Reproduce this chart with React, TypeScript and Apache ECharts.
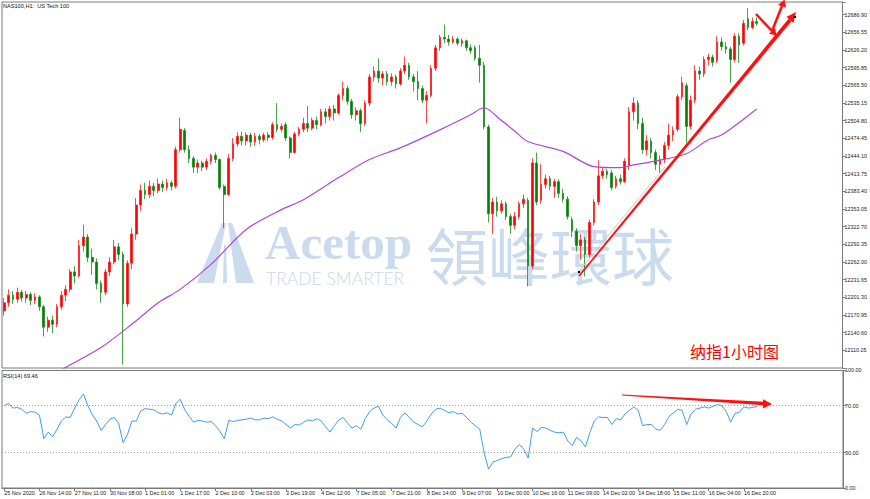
import React, { useEffect, useRef } from "react";
import * as echarts from "echarts";

// x-axis time labels (one every 8 bars)
const timeLabels = [
  "25 Nov 2020", "26 Nov 14:00", "27 Nov 11:00", "30 Nov 08:00", "1 Dec 01:00", "1 Dec 17:00",
  "2 Dec 10:00", "3 Dec 03:00", "3 Dec 19:00", "4 Dec 12:00", "7 Dec 05:00", "7 Dec 21:00",
  "8 Dec 14:00", "9 Dec 07:00", "10 Dec 00:00", "10 Dec 16:00", "11 Dec 09:00", "14 Dec 02:00",
  "14 Dec 18:00", "15 Dec 11:00", "16 Dec 04:00", "16 Dec 20:00",
];

// [open, close, low, high]
const candles: number[][] = [
  [12178,12192,12170,12200],[12192,12205,12185,12215],[12205,12198,12190,12212],[12198,12210,12192,12218],
  [12210,12200,12194,12214],[12200,12206,12192,12212],[12206,12196,12188,12210],[12196,12202,12190,12208],
  [12202,12185,12178,12205],[12185,12150,12134,12188],[12150,12162,12142,12168],[12162,12155,12140,12170],
  [12155,12185,12150,12190],[12185,12205,12180,12212],[12205,12215,12195,12222],[12215,12245,12210,12250],
  [12245,12238,12225,12255],[12238,12290,12235,12300],[12290,12305,12280,12326],[12305,12270,12262,12310],
  [12270,12262,12240,12285],[12262,12225,12215,12268],[12225,12210,12192,12230],[12210,12245,12205,12250],
  [12245,12262,12238,12270],[12262,12288,12258,12300],[12288,12275,12265,12295],[12275,12190,12086,12280],
  [12190,12260,12185,12265],[12260,12310,12250,12320],[12310,12360,12300,12372],[12360,12385,12350,12395],
  [12385,12378,12370,12398],[12378,12392,12372,12402],[12392,12385,12375,12398],[12385,12396,12380,12405],
  [12396,12390,12382,12402],[12390,12398,12385,12405],[12398,12392,12385,12402],[12392,12455,12388,12460],
  [12455,12490,12450,12510],[12488,12455,12450,12492],[12455,12440,12432,12462],[12440,12425,12415,12444],
  [12425,12432,12415,12438],[12432,12425,12418,12436],[12425,12435,12420,12440],[12435,12445,12430,12448],
  [12445,12438,12432,12450],[12438,12390,12386,12440],[12392,12378,12320,12395],[12378,12440,12375,12448],
  [12440,12465,12435,12475],[12465,12478,12460,12485],[12478,12470,12462,12486],[12470,12480,12462,12485],
  [12480,12468,12460,12484],[12468,12478,12462,12484],[12478,12472,12464,12482],[12472,12480,12468,12484],
  [12480,12476,12470,12485],[12476,12498,12472,12502],[12498,12490,12485,12535],[12490,12495,12485,12500],
  [12498,12475,12470,12502],[12475,12450,12440,12478],[12450,12482,12448,12486],[12482,12490,12478,12494],
  [12490,12500,12485,12510],[12500,12492,12485,12530],[12492,12505,12488,12510],[12505,12498,12490,12512],
  [12498,12520,12495,12525],[12520,12512,12500,12526],[12512,12525,12505,12530],[12525,12518,12505,12532],
  [12518,12548,12515,12552],[12548,12560,12540,12572],[12560,12538,12532,12565],[12538,12515,12508,12542],
  [12515,12522,12505,12528],[12522,12500,12485,12526],[12500,12535,12496,12540],[12535,12580,12530,12585],
  [12580,12590,12572,12598],[12590,12578,12570,12612],[12578,12585,12565,12590],[12585,12572,12565,12590],
  [12572,12580,12565,12586],[12580,12568,12560,12584],[12568,12590,12565,12595],[12590,12600,12585,12615],
  [12600,12580,12575,12604],[12580,12572,12555,12585],[12572,12560,12540,12590],[12560,12540,12535,12565],
  [12540,12548,12500,12555],[12548,12595,12545,12600],[12595,12630,12590,12635],[12630,12648,12625,12652],
  [12648,12645,12638,12670],[12645,12640,12634,12652],[12640,12645,12637,12650],[12645,12638,12634,12648],
  [12638,12642,12632,12646],[12642,12630,12625,12644],[12630,12625,12620,12636],[12630,12612,12608,12634],
  [12612,12600,12570,12635],[12600,12494,12490,12606],[12494,12345,12330,12498],[12345,12365,12310,12372],
  [12365,12350,12340,12374],[12350,12362,12345,12368],[12362,12340,12334,12366],[12340,12325,12310,12345],
  [12325,12340,12318,12348],[12340,12362,12336,12366],[12362,12370,12355,12378],[12368,12255,12220,12372],
  [12255,12432,12250,12440],[12432,12365,12360,12450],[12368,12395,12362,12430],[12395,12405,12388,12412],
  [12405,12392,12385,12410],[12392,12400,12372,12405],[12400,12380,12372,12404],[12380,12370,12364,12388],
  [12370,12340,12335,12375],[12335,12315,12305,12340],[12315,12290,12280,12320],[12290,12300,12266,12310],
  [12300,12275,12237,12305],[12275,12330,12270,12335],[12330,12365,12325,12370],[12365,12410,12360,12437],
  [12410,12418,12405,12425],[12418,12412,12405,12422],[12415,12390,12385,12420],[12392,12405,12388,12410],
  [12405,12400,12395,12412],[12400,12435,12398,12440],[12428,12520,12420,12528],[12520,12535,12505,12545],
  [12535,12500,12490,12540],[12500,12455,12448,12510],[12455,12470,12445,12480],[12470,12450,12440,12475],
  [12450,12430,12420,12455],[12430,12438,12415,12445],[12438,12462,12432,12468],[12462,12480,12455,12500],
  [12480,12488,12470,12495],[12490,12546,12486,12550],[12546,12570,12540,12580],[12565,12495,12467,12570],
  [12495,12540,12490,12548],[12540,12590,12535,12600],[12590,12585,12575,12598],[12585,12610,12580,12615],
  [12610,12614,12600,12620],[12614,12605,12598,12618],[12608,12640,12604,12650],[12640,12632,12625,12648],
  [12632,12628,12620,12640],[12628,12610,12570,12632],[12610,12650,12605,12655],[12650,12635,12604,12655],
  [12638,12672,12634,12678],[12680,12665,12660,12698],[12665,12675,12662,12682],[12675,12672,12668,12682],
];

// moving average (purple), [bar index, value]
const maPoints: number[][] = [
  [0,12021],[14,12081],[22,12115],[29,12155],[35,12192],[40,12215],[47,12258],[55,12318],
  [63,12352],[68,12369],[76,12407],[83,12438],[90,12458],[99,12489],[106,12515],[109,12527],
  [113,12505],[116,12487],[119,12469],[127,12452],[134,12426],[140,12424],[143,12429],[147,12434],
  [155,12448],[160,12472],[163,12480],[171,12525],
];

// RSI(14)
const rsiValues = [
  70,72,68,68.5,67,63.5,65,64.5,62,42,
  47.5,43.5,50,57,60.5,60,68,75,80,70,
  62.5,57,49,54,58.5,60,55,38.5,45.5,57,
  57,65.5,67.5,67,66.5,64,63,64,62,72,
  75.5,66.5,61,56,57.5,57,56,56.5,53,48,
  42,57.5,56.5,57.5,58,58.5,59.5,58,58,59.5,
  59,60.5,58.5,57,54,51,54,53.5,56,58,
  57,59,57,52,47.5,53,58,60,55,51,
  53,50,59,65,68,69.5,62,58,55,51,
  60,64,60,56,54,52,57,63,67,68,
  66,64,65,63,63.5,60,56,53,50,30,
  16,22,23.5,25,26,26.5,33,37,33,25.5,
  51,48,51.5,51,49,47.5,47,47.5,40,36,
  43,40,35,47,57,60.5,60,60,54,59,
  58,63,66,69,66,53,54,54,50,49,
  54,61,64,67,66,54,63,67,68,69,
  68,69.5,71,70,65,56,63.5,64.5,69,68,
  68.5,69.46,
];

const rsiLevels = [30, 70];
const rsiAxisValues = [0, 30, 70, 100];
const totalSlots = 191;
const priceMin = 12079.9;
const priceMax = 12708.7;
const priceStep = 30.35;

const smallFont = "Liberation Sans";

export default function App() {
  const ref = useRef<HTMLDivElement>(null);

  useEffect(() => {
    if (!ref.current) return;
    const chart = echarts.init(ref.current, undefined, { renderer: "svg" });
    const categories = Array.from({ length: totalSlots }, (_, i) => "b" + i);
    const showTick = (i: number) => i % 8 === 0 && i / 8 < timeLabels.length;

    const wm = "#c9dbed";
    const option: any = {
      animation: false,
      backgroundColor: "#ffffff",
      grid: [
        { left: 2, right: 27, top: 2, height: 366, show: true, borderColor: "#7a7a7a", borderWidth: 1 },
        { left: 2, right: 27, top: 370.45, height: 117.55, show: true, borderColor: "#7a7a7a", borderWidth: 1 },
      ],
      xAxis: [
        {
          type: "category", gridIndex: 0, data: categories, boundaryGap: true,
          axisLine: { show: false }, axisTick: { show: false }, axisLabel: { show: false },
        },
        {
          type: "category", gridIndex: 1, data: categories, boundaryGap: true,
          axisLine: { show: true, lineStyle: { color: "#7a7a7a", width: 1 } },
          axisTick: { show: true, interval: (i: number) => showTick(i), alignWithLabel: true, length: 3, lineStyle: { color: "#7a7a7a" } },
          axisLabel: {
            show: true, interval: (i: number) => showTick(i),
            formatter: (_v: string, i: number) => (showTick(i) ? timeLabels[i / 8] : ""),
            align: "left", margin: 2, fontSize: 5.4, fontFamily: smallFont, color: "#222",
          },
        },
      ],
      yAxis: [
        {
          type: "value", gridIndex: 0, position: "right", min: priceMin, max: priceMax, interval: priceStep,
          axisLine: { show: true, lineStyle: { color: "#7a7a7a" } },
          axisTick: { show: true, length: 3, lineStyle: { color: "#7a7a7a" } },
          axisLabel: {
            formatter: (v: number) => (v < 12100 || v > 12700 ? "" : v.toFixed(2)),
            fontSize: 5.4, fontFamily: smallFont, color: "#222", margin: 2,
          },
          splitLine: { show: false },
        },
        {
          type: "value", gridIndex: 1, position: "right", min: 0, max: 100,
          axisLine: { show: true, lineStyle: { color: "#7a7a7a" } },
          axisTick: { show: true, length: 3, customValues: rsiAxisValues, lineStyle: { color: "#7a7a7a" } },
          axisLabel: {
            customValues: rsiAxisValues,
            formatter: (v: number) => v.toFixed(2),
            fontSize: 5.4, fontFamily: smallFont, color: "#222", margin: 2,
          },
          splitLine: { show: false },
        },
      ],
      series: [
        {
          type: "candlestick", xAxisIndex: 0, yAxisIndex: 0, data: candles, barWidth: 2.2, z: 3,
          itemStyle: { color: "#ff0000", color0: "#008000", borderColor: "#ff1a1a", borderColor0: "#1a8c1a", borderWidth: 0.8 },
        },
        {
          type: "line", xAxisIndex: 0, yAxisIndex: 0, data: maPoints, showSymbol: false, smooth: 0.3, z: 4,
          lineStyle: { color: "#b046dc", width: 1.2 },
        },
        {
          type: "line", xAxisIndex: 1, yAxisIndex: 1, data: rsiValues, showSymbol: false, z: 4,
          lineStyle: { color: "#3f9cf2", width: 1 },
          markLine: {
            silent: true, symbol: "none", label: { show: false },
            lineStyle: { type: [1, 2], color: "#a0a0a0", width: 1 },
            data: rsiLevels.map((v) => ({ yAxis: v })),
          },
        },
      ],
      graphic: [
        // watermark logo
        { type: "polygon", z: 1, shape: { points: [[197, 283], [222, 223], [226, 223], [214, 283]] }, style: { fill: wm } },
        { type: "polygon", z: 1, shape: { points: [[236, 283], [228, 223], [232, 223], [254, 283]] }, style: { fill: wm } },
        { type: "polygon", z: 1, shape: { points: [[224, 245], [226, 245], [227, 283], [223, 283]] }, style: { fill: wm } },
        {
          type: "text", z: 1, x: 265, y: 242,
          style: { text: "Acetop", font: "bold 49px 'Liberation Serif'", fill: wm, align: "left", verticalAlign: "middle" },
        },
        {
          type: "text", z: 1, x: 266, y: 278,
          style: { text: "TRADE SMARTER", font: "300 17.5px Lato", fill: "#cbd7e3", align: "left", verticalAlign: "middle" },
        },
        {
          type: "text", z: 1, x: 550, y: 254,
          style: { text: "領峰環球", font: "62px 'Noto Sans CJK TC'", fill: wm, align: "center", verticalAlign: "middle" },
        },
        // titles
        {
          type: "text", z: 10, x: 3, y: 6,
          style: { text: "NAS100,H1:  US Tech 100", font: `5.6px '${smallFont}'`, fill: "#111", align: "left", verticalAlign: "middle" },
        },
        {
          type: "text", z: 10, x: 3, y: 376,
          style: { text: "RSI(14) 69.46", font: `5.6px '${smallFont}'`, fill: "#111", align: "left", verticalAlign: "middle" },
        },
        {
          type: "text", z: 10, x: 690, y: 351,
          style: { text: "纳指1小时图", font: "16px 'Noto Sans CJK SC'", fill: "#ff0000", align: "left", verticalAlign: "middle" },
        },
        // hand-drawn trend annotations
        { type: "line", z: 9, shape: { x1: 579, y1: 271, x2: 665, y2: 167 }, style: { stroke: "#c8c8c8", lineWidth: 1 } },
        { type: "polygon", z: 10, shape: { points: [[578.4, 275.5], [579.6, 276.5], [791.5, 21.3], [788.5, 18.7]] }, style: { fill: "#ff1010" } },
        { type: "polygon", z: 10, shape: { points: [[796, 12], [793.5, 23], [786.5, 17]] }, style: { fill: "#ff1010" } },
        { type: "rect", z: 11, shape: { x: 578, y: 271, width: 2, height: 2 }, style: { fill: "#000" } },
        { type: "rect", z: 11, shape: { x: 794, y: 16, width: 2, height: 2 }, style: { fill: "#000" } },
        { type: "polyline", z: 10, shape: { points: [[756, 14], [772, 31]] }, style: { stroke: "#ff1010", lineWidth: 2.5, fill: null } },
        { type: "polygon", z: 10, shape: { points: [[776.5, 35.5], [775, 28], [769, 33.8]] }, style: { fill: "#ff1010" } },
        { type: "polyline", z: 10, shape: { points: [[772, 31], [782, 6]] }, style: { stroke: "#ff1010", lineWidth: 2.5, fill: null } },
        { type: "polygon", z: 10, shape: { points: [[784.5, -0.5], [786, 7.5], [778, 5]] }, style: { fill: "#ff1010" } },
        { type: "polygon", z: 10, shape: { points: [[622, 394.6], [622, 395.4], [764, 405.2], [764, 401.8]] }, style: { fill: "#ff1010" } },
        { type: "polygon", z: 10, shape: { points: [[772, 404], [763, 399.2], [763, 408.4]] }, style: { fill: "#ff1010" } },
      ],
    };
    chart.setOption(option);
    return () => chart.dispose();
  }, []);

  return (
    <div
      ref={ref}
      style={{ position: "fixed", left: 0, top: 0, width: 870, height: 499, background: "#fff" }}
    />
  );
}
